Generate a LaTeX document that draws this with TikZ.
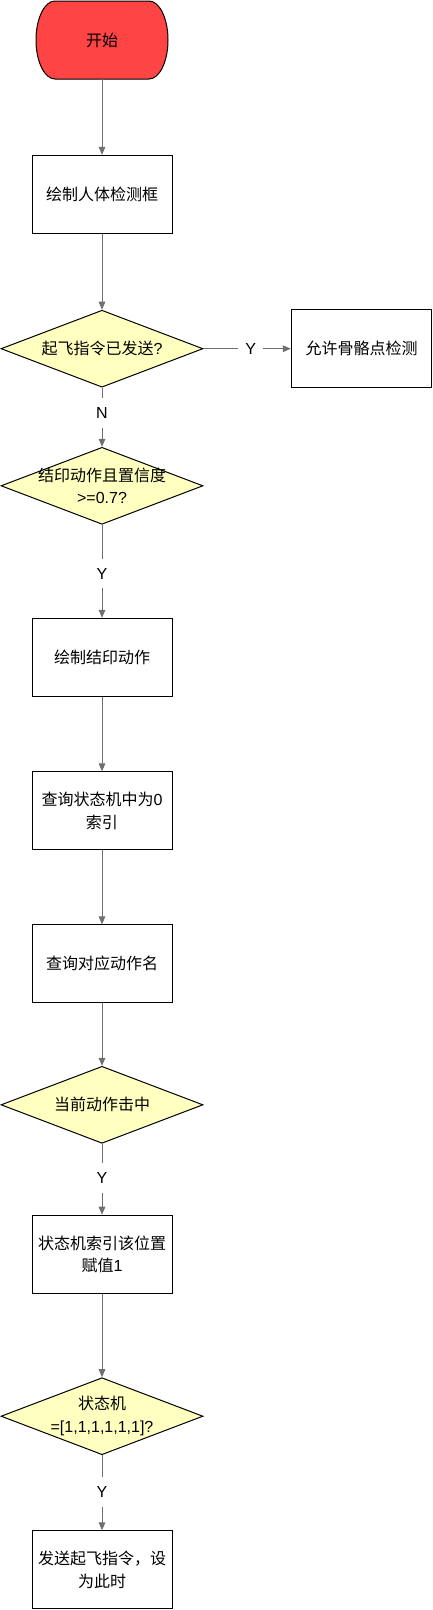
\documentclass[tikz,border=0pt]{standalone}
\usepackage{fontspec}
\setmainfont{Noto Sans CJK SC}
\newfontfamily\lat{Liberation Sans}
\usetikzlibrary{shapes.geometric,arrows.meta}
\definecolor{startred}{HTML}{FF4444}
\definecolor{decfill}{HTML}{FFFFC0}
\definecolor{edgegray}{HTML}{707070}
\tikzset{
  txt/.style={font=\fontsize{12}{17}\selectfont, align=center, text=black},
  procbox/.style={draw=black, line width=0.75pt, fill=white, minimum width=105pt, minimum height=58.5pt, inner sep=0pt, txt},
  decision/.style={shape=diamond, draw=black, line width=0.75pt, fill=decfill, minimum width=151.5pt, minimum height=57.75pt, inner sep=0pt},
  edge/.style={draw=edgegray, line width=0.75pt, -{Triangle[length=6pt,width=5pt]}},
  elabel/.style={fill=white, inner xsep=4pt, inner ysep=7pt, font=\lat\fontsize{12}{14}\selectfont, text=black},
  hlabel/.style={fill=white, inner xsep=5.5pt, inner ysep=3pt, font=\lat\fontsize{12}{14}\selectfont, text=black},
}
\begin{document}
\begin{tikzpicture}[x=0.75pt,y=-0.75pt]
\useasboundingbox (0,0) rectangle (432,1610);

% start terminator
\path[draw=black, fill=startred, line width=0.75pt]
  (55,1) -- (149,1) arc[start angle=90,end angle=-90,x radius=14.25pt,y radius=29.25pt]
  -- (55,79) arc[start angle=270,end angle=90,x radius=14.25pt,y radius=29.25pt] -- cycle;
\node[txt, minimum width=99pt, minimum height=58.5pt, inner sep=0pt] (start) at (102,40) {开始};

\node[procbox] (b1) at (102,194.3) {绘制人体检测框};
\node[decision, label={[txt]center:起飞指令已发送{\lat ?}}] (d1) at (102,348.7) {};
\node[procbox, minimum width=105.3pt] (r1) at (361.5,348.7) {允许骨骼点检测};
\node[decision, label={[txt]center:{结印动作且置信度\\{\lat >=0.7?}}}] (d2) at (102,485.8) {};
\node[procbox] (b2) at (102,657.3) {绘制结印动作};
\node[procbox] (b3) at (102,810.8) {查询状态机中为{\lat 0}\\索引};
\node[procbox] (b4) at (102,963.8) {查询对应动作名};
\node[decision, label={[txt]center:当前动作击中}] (d3) at (102,1104.8) {};
\node[procbox] (b5) at (102,1254.2) {状态机索引该位置\\赋值{\lat 1}};
\node[decision, label={[txt]center:{状态机\\{\lat =[1,1,1,1,1,1]?}}}] (d4) at (102,1416.2) {};
\node[procbox] (b6) at (102,1569.8) {发送起飞指令，设\\为此时};

\draw[edge] (start) -- (b1);
\draw[edge] (b1) -- (d1);
\draw[edge] (d1) -- node[hlabel, pos=0.542] {Y} (r1);
\draw[edge] (d1) -- node[elabel, pos=0.433] {N} (d2);
\draw[edge] (d2) -- node[elabel, pos=0.524] {Y} (b2);
\draw[edge] (b2) -- (b3);
\draw[edge] (b3) -- (b4);
\draw[edge] (b4) -- (d3);
\draw[edge] (d3) -- node[elabel, pos=0.486] {Y} (b5);
\draw[edge] (b5) -- (d4);
\draw[edge] (d4) -- node[elabel, pos=0.49] {Y} (b6);
\end{tikzpicture}
\end{document}
